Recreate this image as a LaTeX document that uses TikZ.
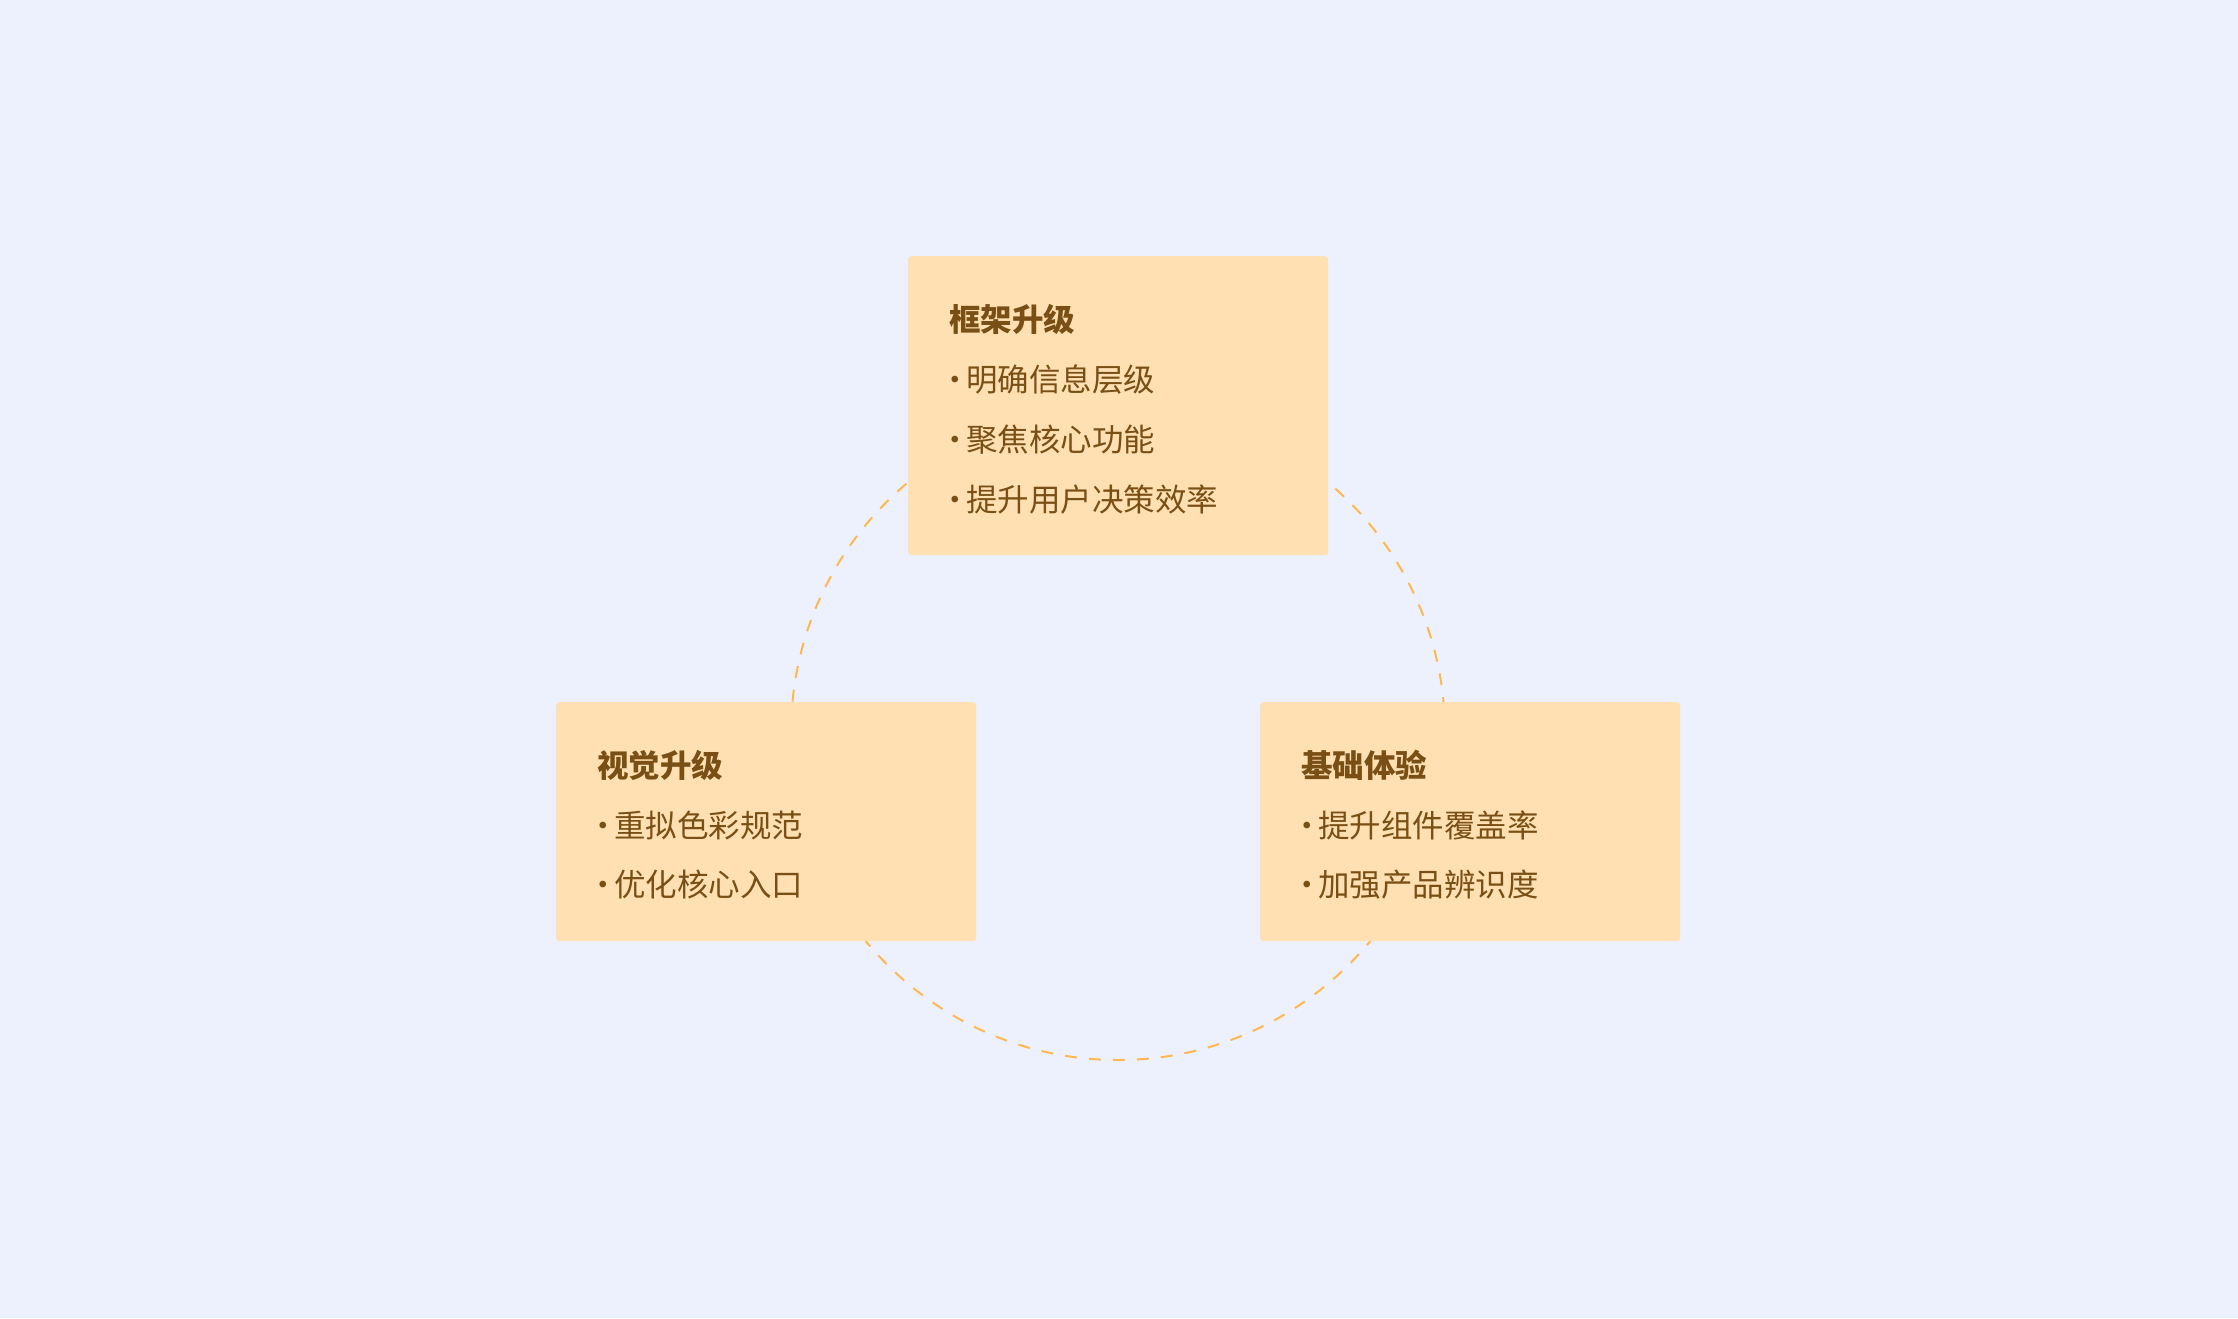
\documentclass[tikz,border=0pt]{standalone}
\usepackage{fontspec}
\newfontfamily\cjk{Noto Sans CJK SC}
\definecolor{bg}{HTML}{EDF1FE}
\definecolor{boxfill}{HTML}{FFE0B2}
\definecolor{txt}{HTML}{7A4F15}
\definecolor{ringc}{HTML}{FFB84F}
\newcommand\mybul{\makebox[17pt][l]{\hspace*{-9.5pt}·}}
\begin{document}
\begin{tikzpicture}[x=1pt,y=-1pt,
  box/.style={fill=boxfill, rounded corners=3pt, draw=none, inner sep=0pt, anchor=north west},
  ttl/.style={anchor=base west, font=\cjk\bfseries\fontsize{31.5}{31.5}\selectfont, text=txt, inner sep=0pt},
  itm/.style={anchor=base west, font=\cjk\fontsize{31.5}{31.5}\selectfont, text=txt, inner sep=0pt},
  ring/.style={draw=ringc, line width=2pt, dash pattern=on 12pt off 12pt}]
\fill[bg] (0,0) rectangle (2238,1318);
\useasboundingbox (0,0) rectangle (2238,1318);
\draw[ring] (1118,733) circle [radius=327pt];
% boxes
\node[box, minimum width=420pt, minimum height=299pt] (topbox) at (908,256) {};
\node[box, minimum width=420pt, minimum height=239pt] (leftbox) at (556,702) {};
\node[box, minimum width=420pt, minimum height=239pt] (rightbox) at (1260,702) {};
% top texts
\node[ttl] (t0) at (949,331) {框架升级};
\node[itm] (t1) at (949,391) {\mybul 明确信息层级};
\node[itm] (t2) at (949,451) {\mybul 聚焦核心功能};
\node[itm] (t3) at (949,511) {\mybul 提升用户决策效率};
% left texts
\node[ttl] (l0) at (597,777) {视觉升级};
\node[itm] (l1) at (597,837) {\mybul 重拟色彩规范};
\node[itm] (l2) at (597,896) {\mybul 优化核心入口};
% right texts
\node[ttl] (r0) at (1301,777) {基础体验};
\node[itm] (r1) at (1301,837) {\mybul 提升组件覆盖率};
\node[itm] (r2) at (1301,896) {\mybul 加强产品辨识度};
\end{tikzpicture}
\end{document}
